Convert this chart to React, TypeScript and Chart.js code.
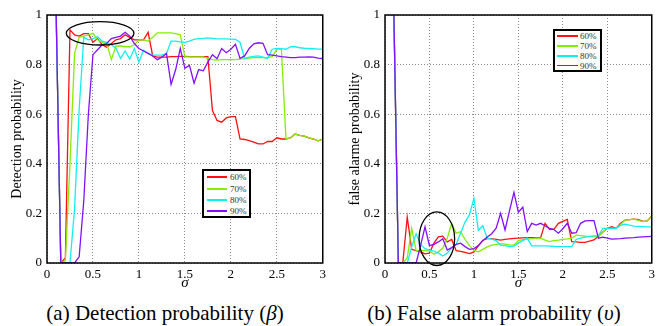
import React, { useEffect, useRef } from 'react';
import { Chart, registerables } from 'chart.js';

Chart.register(...registerables);

// ---------- data ----------
const sigma = [
  0.1, 0.15, 0.2, 0.25, 0.3, 0.35, 0.4, 0.45, 0.5, 0.55,
  0.6, 0.65, 0.7, 0.75, 0.8, 0.85, 0.9, 0.95, 1.0, 1.05,
  1.1, 1.15, 1.2, 1.25, 1.3, 1.35, 1.4, 1.45, 1.5, 1.55,
  1.6, 1.65, 1.7, 1.75, 1.8, 1.85, 1.9, 1.95, 2.0, 2.05,
  2.1, 2.15, 2.2, 2.25, 2.3, 2.35, 2.4, 2.45, 2.5, 2.55,
  2.6, 2.65, 2.7, 2.75, 2.8, 2.85, 2.9, 2.95, 3.0,
];

// Detection probability (beta)
const det60 = [
  1, 0, 0.02, 0.94, 0.92, 0.915, 0.925, 0.925, 0.89, 0.905,
  0.88, 0.87, 0.885, 0.9, 0.905, 0.92, 0.91, 0.9, 0.9, 0.9,
  0.93, 0.835, 0.83, 0.83, 0.83, 0.832, 0.832, 0.833, 0.833, 0.832,
  0.832, 0.832, 0.832, 0.832, 0.615, 0.575, 0.568, 0.585, 0.59, 0.59,
  0.5, 0.498, 0.493, 0.487, 0.48, 0.48, 0.49, 0.49, 0.505, 0.5,
  0.5, 0.505, 0.52, 0.515, 0.512, 0.505, 0.5, 0.493, 0.5,
];
const det70 = [
  1, 0, 0.01, 0.4, 0.845, 0.91, 0.915, 0.92, 0.926, 0.9,
  0.89, 0.885, 0.82, 0.875, 0.875, 0.872, 0.872, 0.88, 0.9, 0.9,
  0.895, 0.91, 0.928, 0.928, 0.928, 0.928, 0.925, 0.92, 0.831, 0.831,
  0.831, 0.831, 0.831, 0.825, 0.82, 0.818, 0.82, 0.82, 0.82, 0.82,
  0.822, 0.824, 0.826, 0.828, 0.828, 0.828, 0.828, 0.832, 0.862, 0.862,
  0.5, 0.505, 0.52, 0.515, 0.512, 0.505, 0.5, 0.493, 0.5,
];
const det80 = [
  1, 0, 0, 0, 0.22, 0.62, 0.91, 0.9, 0.905, 0.912,
  0.895, 0.89, 0.88, 0.866, 0.825, 0.855, 0.822, 0.865, 0.81, 0.858,
  0.845, 0.838, 0.838, 0.838, 0.845, 0.895, 0.895, 0.892, 0.89, 0.895,
  0.902, 0.905, 0.906, 0.908, 0.906, 0.904, 0.904, 0.904, 0.903, 0.902,
  0.89, 0.825, 0.83, 0.833, 0.835, 0.83, 0.825, 0.862, 0.865, 0.864,
  0.862, 0.872, 0.872, 0.868, 0.866, 0.865, 0.864, 0.862, 0.862,
];
const det90 = [
  1, 0, 0, 0, 0, 0.025, 0.25, 0.6, 0.84, 0.86,
  0.88, 0.885, 0.905, 0.91, 0.915, 0.93, 0.915, 0.885, 0.865, 0.855,
  0.845, 0.835, 0.82, 0.83, 0.845, 0.72, 0.78, 0.865, 0.785, 0.797,
  0.725, 0.78, 0.775, 0.81, 0.84, 0.824, 0.865, 0.848, 0.862, 0.882,
  0.825, 0.835, 0.865, 0.884, 0.888, 0.886, 0.84, 0.838, 0.835, 0.832,
  0.83, 0.828, 0.828, 0.83, 0.83, 0.831, 0.83, 0.826, 0.824,
];

// False alarm probability (upsilon)
const fa60 = [
  1, 0, 0, 0.185, 0.055, 0.05, 0.045, 0.037, 0.04, 0.08,
  0.105, 0.108, 0.085, 0.095, 0.05, 0.047, 0.043, 0.038, 0.045, 0.07,
  0.092, 0.098, 0.098, 0.095, 0.092, 0.095, 0.097, 0.099, 0.1, 0.101,
  0.102, 0.102, 0.102, 0.102, 0.16, 0.136, 0.136, 0.16, 0.168, 0.176,
  0.086, 0.085, 0.083, 0.083, 0.088, 0.093, 0.108, 0.125, 0.14, 0.146,
  0.14, 0.16, 0.173, 0.175, 0.177, 0.175, 0.168, 0.17, 0.19,
];
const fa70 = [
  1, 0, 0, 0.02, 0.14, 0.05, 0.05, 0.05, 0.048, 0.035,
  0.045, 0.06, 0.1, 0.16, 0.12, 0.126, 0.095, 0.07, 0.051, 0.045,
  0.055, 0.065, 0.072, 0.075, 0.078, 0.076, 0.073, 0.072, 0.09, 0.094,
  0.096, 0.098, 0.1, 0.1, 0.092, 0.086, 0.09, 0.092, 0.095, 0.097,
  0.1, 0.112, 0.11, 0.108, 0.106, 0.106, 0.106, 0.125, 0.14, 0.14,
  0.14, 0.155, 0.173, 0.175, 0.177, 0.172, 0.167, 0.17, 0.19,
];
const fa80 = [
  1, 0, 0, 0, 0.065, 0.118, 0.075, 0.058, 0.052, 0.048,
  0.04, 0.028, 0.04, 0.06, 0.075, 0.12, 0.165, 0.195, 0.26, 0.132,
  0.15, 0.1, 0.096, 0.09, 0.072, 0.07, 0.066, 0.068, 0.08, 0.09,
  0.1, 0.069, 0.069, 0.069, 0.069, 0.068, 0.067, 0.066, 0.066, 0.066,
  0.066, 0.095, 0.1, 0.104, 0.107, 0.109, 0.109, 0.14, 0.14, 0.14,
  0.14, 0.152, 0.157, 0.153, 0.149, 0.148, 0.147, 0.146, 0.146,
];
const fa90 = [
  1, 0, 0, 0, 0, 0, 0.07, 0.146, 0.07, 0.075,
  0.085, 0.098, 0.052, 0.062, 0.075, 0.08, 0.066, 0.055, 0.058, 0.07,
  0.09, 0.105, 0.118, 0.14, 0.2, 0.133, 0.21, 0.285, 0.205, 0.225,
  0.127, 0.16, 0.153, 0.16, 0.15, 0.14, 0.135, 0.12, 0.138, 0.16,
  0.12, 0.122, 0.16, 0.17, 0.171, 0.171, 0.1, 0.104, 0.1, 0.096,
  0.097, 0.098, 0.1, 0.101, 0.102, 0.104, 0.105, 0.106, 0.107,
];

const seriesLabels = ['60%', '70%', '80%', '90%'];
const xTickLabels = ['0', '0.5', '1', '1.5', '2', '2.5', '3'];
const yTickLabels = ['0', '0.2', '0.4', '0.6', '0.8', '1'];

// ---------- styles ----------
const COLORS = ['#ff1010', '#84ee00', '#10f0f0', '#8010ff'];
const SERIF = '"Liberation Serif", "Times New Roman", Times, serif';

type Ellipse = { cx: number; cy: number; rx: number; ry: number };

const framePlugin = {
  id: 'frame',
  afterDatasetsDraw(chart: any, _args: any, opts: any) {
    const { ctx, chartArea, scales } = chart;
    const { left, top, right, bottom } = chartArea;
    ctx.save();
    const e: Ellipse | undefined = opts && opts.ellipse;
    if (e) {
      const x = scales.x;
      const y = scales.y;
      const cx = x.getPixelForValue(e.cx);
      const cy = y.getPixelForValue(e.cy);
      const rx = Math.abs(x.getPixelForValue(e.cx + e.rx) - cx);
      const ry = Math.abs(y.getPixelForValue(e.cy + e.ry) - cy);
      ctx.beginPath();
      ctx.ellipse(cx, cy, rx, ry, 0, 0, Math.PI * 2);
      ctx.lineWidth = 1.3;
      ctx.strokeStyle = '#000';
      ctx.stroke();
    }
    ctx.lineWidth = 1.5;
    ctx.strokeStyle = '#000';
    ctx.strokeRect(left, top, right - left, bottom - top);
    ctx.restore();
  },
};

function buildConfig(
  series: number[][],
  yTitle: string,
  axisWidth: number,
  padRight: number,
  yTitlePad: number,
  ellipse: Ellipse
): any {
  return {
    type: 'line',
    data: {
      datasets: series.map((vals, i) => ({
        label: seriesLabels[i],
        data: sigma.map((s, j) => ({ x: s, y: vals[j] })),
        borderColor: COLORS[i],
        backgroundColor: COLORS[i],
        borderWidth: 1.3,
        pointRadius: 0,
        tension: 0,
        fill: false,
        order: 3 - i,
      })),
    },
    options: {
      responsive: false,
      animation: false,
      devicePixelRatio: 1,
      layout: { padding: { top: 15, right: padRight, left: 0, bottom: 0 } },
      plugins: {
        legend: { display: false },
        tooltip: { enabled: false },
        frame: { ellipse },
      },
      scales: {
        x: {
          type: 'linear',
          min: 0,
          max: 3,
          ticks: {
            stepSize: 0.5,
            color: '#000',
            font: { family: SERIF, size: 13 },
            padding: 4,
            maxRotation: 0,
            autoSkip: false,
            callback: (_v: any, i: number) => xTickLabels[i],
          },
          grid: { color: '#8a8a8a', lineWidth: 1, drawTicks: false },
          border: { display: false, dash: [1, 2] },
          title: {
            display: true,
            text: 'σ',
            color: '#000',
            font: { family: SERIF, size: 15, style: 'italic' },
            padding: { top: 0, bottom: 3 },
          },
          afterFit: (s: any) => {
            s.height = 32;
          },
        },
        y: {
          type: 'linear',
          min: 0,
          max: 1,
          ticks: {
            stepSize: 0.2,
            color: '#000',
            font: { family: SERIF, size: 13 },
            padding: 5,
            callback: (_v: any, i: number) => yTickLabels[i],
          },
          grid: { color: '#8a8a8a', lineWidth: 1, drawTicks: false },
          border: { display: false, dash: [1, 2] },
          title: {
            display: true,
            text: yTitle,
            color: '#000',
            font: { family: SERIF, size: 14 },
            padding: { top: yTitlePad, bottom: 0 },
          },
          afterFit: (s: any) => {
            s.width = axisWidth;
          },
        },
      },
    },
    plugins: [framePlugin],
  };
}

type LegendProps = {
  left: number;
  top: number;
  width: number;
  height: number;
  firstRow: number;
  rowGap: number;
  lineX0: number;
  lineX1: number;
  textX: number;
  lineWidth: number;
};

function Legend(p: LegendProps) {
  return (
    <div
      style={{
        position: 'absolute',
        left: p.left,
        top: p.top,
        width: p.width,
        height: p.height,
        boxSizing: 'border-box',
        border: '2px solid #000',
        background: '#fff',
      }}
    >
      {seriesLabels.map((lab, i) => {
        const cy = p.firstRow + i * p.rowGap - 2;
        return (
          <React.Fragment key={lab}>
            <div
              style={{
                position: 'absolute',
                left: p.lineX0 - 2,
                top: cy - p.lineWidth / 2,
                width: p.lineX1 - p.lineX0,
                height: p.lineWidth,
                background: COLORS[i],
              }}
            />
            <div
              style={{
                position: 'absolute',
                left: p.textX - 2,
                top: cy - 6,
                height: 12,
                lineHeight: '12px',
                fontFamily: SERIF,
                fontSize: 9,
                color: '#333',
                whiteSpace: 'nowrap',
              }}
            >
              {lab}
            </div>
          </React.Fragment>
        );
      })}
    </div>
  );
}

export default function App() {
  const leftRef = useRef<HTMLCanvasElement>(null);
  const rightRef = useRef<HTMLCanvasElement>(null);

  useEffect(() => {
    const charts: Chart[] = [];
    if (leftRef.current) {
      charts.push(
        new Chart(
          leftRef.current,
          buildConfig(
            [det60, det70, det80, det90],
            'Detection probability',
            47,
            4,
            8.6,
            { cx: 0.578, cy: 0.926, rx: 0.368, ry: 0.047 }
          )
        )
      );
    }
    if (rightRef.current) {
      charts.push(
        new Chart(
          rightRef.current,
          buildConfig(
            [fa60, fa70, fa80, fa90],
            'false alarme probability',
            55,
            3,
            16.6,
            { cx: 0.583, cy: 0.098, rx: 0.2, ry: 0.108 }
          )
        )
      );
    }
    return () => charts.forEach((c) => c.destroy());
  }, []);

  const captionStyle: React.CSSProperties = {
    position: 'absolute',
    top: 301,
    width: 320,
    textAlign: 'center',
    fontFamily: SERIF,
    fontSize: 21,
    lineHeight: '24px',
    color: '#000',
    whiteSpace: 'nowrap',
  };

  return (
    <div
      style={{
        position: 'absolute',
        left: 0,
        top: 0,
        width: 659,
        height: 326,
        background: '#fff',
        overflow: 'hidden',
      }}
    >
      <canvas
        ref={leftRef}
        width={330}
        height={295}
        style={{ position: 'absolute', left: 0, top: 0 }}
      />
      <canvas
        ref={rightRef}
        width={329}
        height={295}
        style={{ position: 'absolute', left: 330, top: 0 }}
      />
      <Legend
        left={202}
        top={169}
        width={49}
        height={49}
        firstRow={8.3}
        rowGap={11.3}
        lineX0={5}
        lineX1={25}
        textX={28}
        lineWidth={2}
      />
      <Legend
        left={553}
        top={29}
        width={49}
        height={43}
        firstRow={7}
        rowGap={9.9}
        lineX0={4}
        lineX1={25}
        textX={27}
        lineWidth={1.6}
      />
      <div style={{ ...captionStyle, left: 5 }}>
        (a) Detection probability (<i>β</i>)
      </div>
      <div style={{ ...captionStyle, left: 334 }}>
        (b) False alarm probability (<i>υ</i>)
      </div>
    </div>
  );
}
